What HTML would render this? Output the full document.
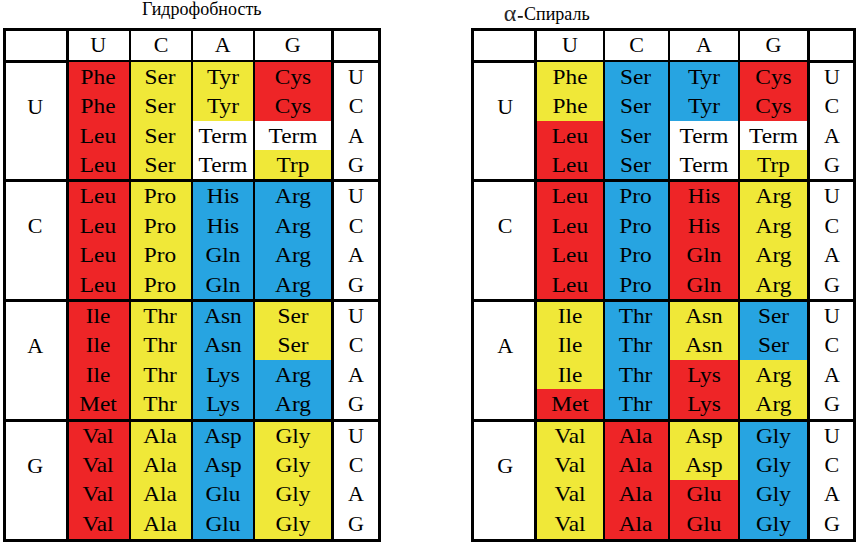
<!DOCTYPE html>
<html><head><meta charset="utf-8"><title>codon tables</title>
<style>
html,body{margin:0;padding:0;background:#fff;}
body{width:858px;height:544px;position:relative;overflow:hidden;font-family:"Liberation Serif",serif;color:#000;}
.r{position:absolute;}
.t{position:absolute;font-size:22px;line-height:29px;height:29px;text-align:center;white-space:nowrap;transform:scaleX(1.06);transform-origin:center;}
.s{transform:none;}
.h{position:absolute;font-size:18px;line-height:20px;white-space:nowrap;}
.al{font-size:21px;}
</style></head><body>
<div class="r" style="left:3px;top:28px;width:378px;height:514px;background:#000"></div>
<div class="r" style="left:6px;top:31px;width:60px;height:29px;background:#ffffff"></div>
<div class="r" style="left:69px;top:31px;width:60px;height:29px;background:#ffffff"></div>
<div class="r" style="left:131px;top:31px;width:60px;height:29px;background:#ffffff"></div>
<div class="r" style="left:193px;top:31px;width:60px;height:29px;background:#ffffff"></div>
<div class="r" style="left:255px;top:31px;width:76px;height:29px;background:#ffffff"></div>
<div class="r" style="left:334px;top:31px;width:44px;height:29px;background:#ffffff"></div>
<div class="r" style="left:6px;top:63px;width:60px;height:116px;background:#ffffff"></div>
<div class="r" style="left:334px;top:63px;width:44px;height:116px;background:#ffffff"></div>
<div class="r" style="left:69px;top:62px;width:60px;height:117px;background:#ee2527"></div>
<div class="r" style="left:131px;top:62px;width:60px;height:117px;background:#f0e838"></div>
<div class="r" style="left:193px;top:62px;width:60px;height:59px;background:#f0e838"></div>
<div class="r" style="left:193px;top:121px;width:60px;height:58px;background:#ffffff"></div>
<div class="r" style="left:255px;top:62px;width:76px;height:59px;background:#ee2527"></div>
<div class="r" style="left:255px;top:121px;width:76px;height:29px;background:#ffffff"></div>
<div class="r" style="left:255px;top:150px;width:76px;height:29px;background:#f0e838"></div>
<div class="r" style="left:6px;top:182px;width:60px;height:117px;background:#ffffff"></div>
<div class="r" style="left:334px;top:182px;width:44px;height:117px;background:#ffffff"></div>
<div class="r" style="left:69px;top:182px;width:60px;height:117px;background:#ee2527"></div>
<div class="r" style="left:131px;top:182px;width:60px;height:117px;background:#f0e838"></div>
<div class="r" style="left:193px;top:182px;width:60px;height:117px;background:#27a4e1"></div>
<div class="r" style="left:255px;top:182px;width:76px;height:117px;background:#27a4e1"></div>
<div class="r" style="left:6px;top:302px;width:60px;height:117px;background:#ffffff"></div>
<div class="r" style="left:334px;top:302px;width:44px;height:117px;background:#ffffff"></div>
<div class="r" style="left:69px;top:302px;width:60px;height:117px;background:#ee2527"></div>
<div class="r" style="left:131px;top:302px;width:60px;height:117px;background:#f0e838"></div>
<div class="r" style="left:193px;top:302px;width:60px;height:117px;background:#27a4e1"></div>
<div class="r" style="left:255px;top:302px;width:76px;height:58px;background:#f0e838"></div>
<div class="r" style="left:255px;top:360px;width:76px;height:59px;background:#27a4e1"></div>
<div class="r" style="left:6px;top:422px;width:60px;height:117px;background:#ffffff"></div>
<div class="r" style="left:334px;top:422px;width:44px;height:117px;background:#ffffff"></div>
<div class="r" style="left:69px;top:422px;width:60px;height:117px;background:#ee2527"></div>
<div class="r" style="left:131px;top:422px;width:60px;height:117px;background:#f0e838"></div>
<div class="r" style="left:193px;top:422px;width:60px;height:117px;background:#27a4e1"></div>
<div class="r" style="left:255px;top:422px;width:76px;height:117px;background:#f0e838"></div>
<div class="t s" style="left:68.2px;top:30.1px;width:60px">U</div>
<div class="t s" style="left:131.2px;top:30.1px;width:60px">C</div>
<div class="t s" style="left:192.7px;top:30.1px;width:60px">A</div>
<div class="t s" style="left:254.8px;top:30.1px;width:76px">G</div>
<div class="t s" style="left:5.2px;top:91.7px;width:60px">U</div>
<div class="t" style="left:68.2px;top:61.7px;width:60px">Phe</div>
<div class="t" style="left:130.2px;top:61.7px;width:60px">Ser</div>
<div class="t" style="left:193px;top:61.7px;width:60px">Tyr</div>
<div class="t" style="left:255px;top:61.7px;width:76px">Cys</div>
<div class="t s" style="left:334px;top:61.7px;width:44px">U</div>
<div class="t" style="left:68.2px;top:91.1px;width:60px">Phe</div>
<div class="t" style="left:130.2px;top:91.1px;width:60px">Ser</div>
<div class="t" style="left:193px;top:91.1px;width:60px">Tyr</div>
<div class="t" style="left:255px;top:91.1px;width:76px">Cys</div>
<div class="t s" style="left:334px;top:91.1px;width:44px">C</div>
<div class="t" style="left:68.2px;top:120.5px;width:60px">Leu</div>
<div class="t" style="left:130.2px;top:120.5px;width:60px">Ser</div>
<div class="t" style="left:193px;top:120.5px;width:60px">Term</div>
<div class="t" style="left:255px;top:120.5px;width:76px">Term</div>
<div class="t s" style="left:334px;top:120.5px;width:44px">A</div>
<div class="t" style="left:68.2px;top:149.9px;width:60px">Leu</div>
<div class="t" style="left:130.2px;top:149.9px;width:60px">Ser</div>
<div class="t" style="left:193px;top:149.9px;width:60px">Term</div>
<div class="t" style="left:255px;top:149.9px;width:76px">Trp</div>
<div class="t s" style="left:334px;top:149.9px;width:44px">G</div>
<div class="t s" style="left:5.2px;top:211.3px;width:60px">C</div>
<div class="t" style="left:68.2px;top:181.3px;width:60px">Leu</div>
<div class="t" style="left:130.2px;top:181.3px;width:60px">Pro</div>
<div class="t" style="left:193px;top:181.3px;width:60px">His</div>
<div class="t" style="left:255px;top:181.3px;width:76px">Arg</div>
<div class="t s" style="left:334px;top:181.3px;width:44px">U</div>
<div class="t" style="left:68.2px;top:210.7px;width:60px">Leu</div>
<div class="t" style="left:130.2px;top:210.7px;width:60px">Pro</div>
<div class="t" style="left:193px;top:210.7px;width:60px">His</div>
<div class="t" style="left:255px;top:210.7px;width:76px">Arg</div>
<div class="t s" style="left:334px;top:210.7px;width:44px">C</div>
<div class="t" style="left:68.2px;top:240.1px;width:60px">Leu</div>
<div class="t" style="left:130.2px;top:240.1px;width:60px">Pro</div>
<div class="t" style="left:193px;top:240.1px;width:60px">Gln</div>
<div class="t" style="left:255px;top:240.1px;width:76px">Arg</div>
<div class="t s" style="left:334px;top:240.1px;width:44px">A</div>
<div class="t" style="left:68.2px;top:269.5px;width:60px">Leu</div>
<div class="t" style="left:130.2px;top:269.5px;width:60px">Pro</div>
<div class="t" style="left:193px;top:269.5px;width:60px">Gln</div>
<div class="t" style="left:255px;top:269.5px;width:76px">Arg</div>
<div class="t s" style="left:334px;top:269.5px;width:44px">G</div>
<div class="t s" style="left:5.2px;top:330.9px;width:60px">A</div>
<div class="t" style="left:68.2px;top:300.9px;width:60px">Ile</div>
<div class="t" style="left:130.2px;top:300.9px;width:60px">Thr</div>
<div class="t" style="left:193px;top:300.9px;width:60px">Asn</div>
<div class="t" style="left:255px;top:300.9px;width:76px">Ser</div>
<div class="t s" style="left:334px;top:300.9px;width:44px">U</div>
<div class="t" style="left:68.2px;top:330.3px;width:60px">Ile</div>
<div class="t" style="left:130.2px;top:330.3px;width:60px">Thr</div>
<div class="t" style="left:193px;top:330.3px;width:60px">Asn</div>
<div class="t" style="left:255px;top:330.3px;width:76px">Ser</div>
<div class="t s" style="left:334px;top:330.3px;width:44px">C</div>
<div class="t" style="left:68.2px;top:359.7px;width:60px">Ile</div>
<div class="t" style="left:130.2px;top:359.7px;width:60px">Thr</div>
<div class="t" style="left:193px;top:359.7px;width:60px">Lys</div>
<div class="t" style="left:255px;top:359.7px;width:76px">Arg</div>
<div class="t s" style="left:334px;top:359.7px;width:44px">A</div>
<div class="t" style="left:68.2px;top:389.1px;width:60px">Met</div>
<div class="t" style="left:130.2px;top:389.1px;width:60px">Thr</div>
<div class="t" style="left:193px;top:389.1px;width:60px">Lys</div>
<div class="t" style="left:255px;top:389.1px;width:76px">Arg</div>
<div class="t s" style="left:334px;top:389.1px;width:44px">G</div>
<div class="t s" style="left:5.2px;top:450.5px;width:60px">G</div>
<div class="t" style="left:68.2px;top:420.5px;width:60px">Val</div>
<div class="t" style="left:130.2px;top:420.5px;width:60px">Ala</div>
<div class="t" style="left:193px;top:420.5px;width:60px">Asp</div>
<div class="t" style="left:255px;top:420.5px;width:76px">Gly</div>
<div class="t s" style="left:334px;top:420.5px;width:44px">U</div>
<div class="t" style="left:68.2px;top:449.9px;width:60px">Val</div>
<div class="t" style="left:130.2px;top:449.9px;width:60px">Ala</div>
<div class="t" style="left:193px;top:449.9px;width:60px">Asp</div>
<div class="t" style="left:255px;top:449.9px;width:76px">Gly</div>
<div class="t s" style="left:334px;top:449.9px;width:44px">C</div>
<div class="t" style="left:68.2px;top:479.3px;width:60px">Val</div>
<div class="t" style="left:130.2px;top:479.3px;width:60px">Ala</div>
<div class="t" style="left:193px;top:479.3px;width:60px">Glu</div>
<div class="t" style="left:255px;top:479.3px;width:76px">Gly</div>
<div class="t s" style="left:334px;top:479.3px;width:44px">A</div>
<div class="t" style="left:68.2px;top:508.7px;width:60px">Val</div>
<div class="t" style="left:130.2px;top:508.7px;width:60px">Ala</div>
<div class="t" style="left:193px;top:508.7px;width:60px">Glu</div>
<div class="t" style="left:255px;top:508.7px;width:76px">Gly</div>
<div class="t s" style="left:334px;top:508.7px;width:44px">G</div>
<div class="r" style="left:471px;top:28px;width:385px;height:514px;background:#000"></div>
<div class="r" style="left:474px;top:31px;width:60px;height:29px;background:#ffffff"></div>
<div class="r" style="left:537px;top:31px;width:66px;height:29px;background:#ffffff"></div>
<div class="r" style="left:605px;top:31px;width:63px;height:29px;background:#ffffff"></div>
<div class="r" style="left:670px;top:31px;width:68px;height:29px;background:#ffffff"></div>
<div class="r" style="left:740px;top:31px;width:67px;height:29px;background:#ffffff"></div>
<div class="r" style="left:810px;top:31px;width:43px;height:29px;background:#ffffff"></div>
<div class="r" style="left:474px;top:63px;width:60px;height:116px;background:#ffffff"></div>
<div class="r" style="left:810px;top:63px;width:43px;height:116px;background:#ffffff"></div>
<div class="r" style="left:537px;top:62px;width:66px;height:59px;background:#f0e838"></div>
<div class="r" style="left:537px;top:121px;width:66px;height:58px;background:#ee2527"></div>
<div class="r" style="left:605px;top:62px;width:63px;height:117px;background:#27a4e1"></div>
<div class="r" style="left:670px;top:62px;width:68px;height:59px;background:#27a4e1"></div>
<div class="r" style="left:670px;top:121px;width:68px;height:58px;background:#ffffff"></div>
<div class="r" style="left:740px;top:62px;width:67px;height:59px;background:#ee2527"></div>
<div class="r" style="left:740px;top:121px;width:67px;height:29px;background:#ffffff"></div>
<div class="r" style="left:740px;top:150px;width:67px;height:29px;background:#f0e838"></div>
<div class="r" style="left:474px;top:182px;width:60px;height:117px;background:#ffffff"></div>
<div class="r" style="left:810px;top:182px;width:43px;height:117px;background:#ffffff"></div>
<div class="r" style="left:537px;top:182px;width:66px;height:117px;background:#ee2527"></div>
<div class="r" style="left:605px;top:182px;width:63px;height:117px;background:#27a4e1"></div>
<div class="r" style="left:670px;top:182px;width:68px;height:117px;background:#ee2527"></div>
<div class="r" style="left:740px;top:182px;width:67px;height:117px;background:#f0e838"></div>
<div class="r" style="left:474px;top:302px;width:60px;height:117px;background:#ffffff"></div>
<div class="r" style="left:810px;top:302px;width:43px;height:117px;background:#ffffff"></div>
<div class="r" style="left:537px;top:302px;width:66px;height:87px;background:#f0e838"></div>
<div class="r" style="left:537px;top:389px;width:66px;height:30px;background:#ee2527"></div>
<div class="r" style="left:605px;top:302px;width:63px;height:117px;background:#27a4e1"></div>
<div class="r" style="left:670px;top:302px;width:68px;height:58px;background:#f0e838"></div>
<div class="r" style="left:670px;top:360px;width:68px;height:59px;background:#ee2527"></div>
<div class="r" style="left:740px;top:302px;width:67px;height:58px;background:#27a4e1"></div>
<div class="r" style="left:740px;top:360px;width:67px;height:59px;background:#f0e838"></div>
<div class="r" style="left:474px;top:422px;width:60px;height:117px;background:#ffffff"></div>
<div class="r" style="left:810px;top:422px;width:43px;height:117px;background:#ffffff"></div>
<div class="r" style="left:537px;top:422px;width:66px;height:117px;background:#f0e838"></div>
<div class="r" style="left:605px;top:422px;width:63px;height:117px;background:#ee2527"></div>
<div class="r" style="left:670px;top:422px;width:68px;height:58px;background:#f0e838"></div>
<div class="r" style="left:670px;top:480px;width:68px;height:59px;background:#ee2527"></div>
<div class="r" style="left:740px;top:422px;width:67px;height:117px;background:#27a4e1"></div>
<div class="t s" style="left:537px;top:30.1px;width:66px">U</div>
<div class="t s" style="left:605px;top:30.1px;width:63px">C</div>
<div class="t s" style="left:670px;top:30.1px;width:68px">A</div>
<div class="t s" style="left:740px;top:30.1px;width:67px">G</div>
<div class="t s" style="left:475.2px;top:91.7px;width:60px">U</div>
<div class="t" style="left:537px;top:61.7px;width:66px">Phe</div>
<div class="t" style="left:604.2px;top:61.7px;width:63px">Ser</div>
<div class="t" style="left:669.6px;top:61.7px;width:68px">Tyr</div>
<div class="t" style="left:739.8px;top:61.7px;width:67px">Cys</div>
<div class="t s" style="left:810.4px;top:61.7px;width:43px">U</div>
<div class="t" style="left:537px;top:91.1px;width:66px">Phe</div>
<div class="t" style="left:604.2px;top:91.1px;width:63px">Ser</div>
<div class="t" style="left:669.6px;top:91.1px;width:68px">Tyr</div>
<div class="t" style="left:739.8px;top:91.1px;width:67px">Cys</div>
<div class="t s" style="left:810.4px;top:91.1px;width:43px">C</div>
<div class="t" style="left:537px;top:120.5px;width:66px">Leu</div>
<div class="t" style="left:604.2px;top:120.5px;width:63px">Ser</div>
<div class="t" style="left:669.6px;top:120.5px;width:68px">Term</div>
<div class="t" style="left:739.8px;top:120.5px;width:67px">Term</div>
<div class="t s" style="left:810.4px;top:120.5px;width:43px">A</div>
<div class="t" style="left:537px;top:149.9px;width:66px">Leu</div>
<div class="t" style="left:604.2px;top:149.9px;width:63px">Ser</div>
<div class="t" style="left:669.6px;top:149.9px;width:68px">Term</div>
<div class="t" style="left:739.8px;top:149.9px;width:67px">Trp</div>
<div class="t s" style="left:810.4px;top:149.9px;width:43px">G</div>
<div class="t s" style="left:475.2px;top:211.3px;width:60px">C</div>
<div class="t" style="left:537px;top:181.3px;width:66px">Leu</div>
<div class="t" style="left:604.2px;top:181.3px;width:63px">Pro</div>
<div class="t" style="left:669.6px;top:181.3px;width:68px">His</div>
<div class="t" style="left:739.8px;top:181.3px;width:67px">Arg</div>
<div class="t s" style="left:810.4px;top:181.3px;width:43px">U</div>
<div class="t" style="left:537px;top:210.7px;width:66px">Leu</div>
<div class="t" style="left:604.2px;top:210.7px;width:63px">Pro</div>
<div class="t" style="left:669.6px;top:210.7px;width:68px">His</div>
<div class="t" style="left:739.8px;top:210.7px;width:67px">Arg</div>
<div class="t s" style="left:810.4px;top:210.7px;width:43px">C</div>
<div class="t" style="left:537px;top:240.1px;width:66px">Leu</div>
<div class="t" style="left:604.2px;top:240.1px;width:63px">Pro</div>
<div class="t" style="left:669.6px;top:240.1px;width:68px">Gln</div>
<div class="t" style="left:739.8px;top:240.1px;width:67px">Arg</div>
<div class="t s" style="left:810.4px;top:240.1px;width:43px">A</div>
<div class="t" style="left:537px;top:269.5px;width:66px">Leu</div>
<div class="t" style="left:604.2px;top:269.5px;width:63px">Pro</div>
<div class="t" style="left:669.6px;top:269.5px;width:68px">Gln</div>
<div class="t" style="left:739.8px;top:269.5px;width:67px">Arg</div>
<div class="t s" style="left:810.4px;top:269.5px;width:43px">G</div>
<div class="t s" style="left:475.2px;top:330.9px;width:60px">A</div>
<div class="t" style="left:537px;top:300.9px;width:66px">Ile</div>
<div class="t" style="left:604.2px;top:300.9px;width:63px">Thr</div>
<div class="t" style="left:669.6px;top:300.9px;width:68px">Asn</div>
<div class="t" style="left:739.8px;top:300.9px;width:67px">Ser</div>
<div class="t s" style="left:810.4px;top:300.9px;width:43px">U</div>
<div class="t" style="left:537px;top:330.3px;width:66px">Ile</div>
<div class="t" style="left:604.2px;top:330.3px;width:63px">Thr</div>
<div class="t" style="left:669.6px;top:330.3px;width:68px">Asn</div>
<div class="t" style="left:739.8px;top:330.3px;width:67px">Ser</div>
<div class="t s" style="left:810.4px;top:330.3px;width:43px">C</div>
<div class="t" style="left:537px;top:359.7px;width:66px">Ile</div>
<div class="t" style="left:604.2px;top:359.7px;width:63px">Thr</div>
<div class="t" style="left:669.6px;top:359.7px;width:68px">Lys</div>
<div class="t" style="left:739.8px;top:359.7px;width:67px">Arg</div>
<div class="t s" style="left:810.4px;top:359.7px;width:43px">A</div>
<div class="t" style="left:537px;top:389.1px;width:66px">Met</div>
<div class="t" style="left:604.2px;top:389.1px;width:63px">Thr</div>
<div class="t" style="left:669.6px;top:389.1px;width:68px">Lys</div>
<div class="t" style="left:739.8px;top:389.1px;width:67px">Arg</div>
<div class="t s" style="left:810.4px;top:389.1px;width:43px">G</div>
<div class="t s" style="left:475.2px;top:450.5px;width:60px">G</div>
<div class="t" style="left:537px;top:420.5px;width:66px">Val</div>
<div class="t" style="left:604.2px;top:420.5px;width:63px">Ala</div>
<div class="t" style="left:669.6px;top:420.5px;width:68px">Asp</div>
<div class="t" style="left:739.8px;top:420.5px;width:67px">Gly</div>
<div class="t s" style="left:810.4px;top:420.5px;width:43px">U</div>
<div class="t" style="left:537px;top:449.9px;width:66px">Val</div>
<div class="t" style="left:604.2px;top:449.9px;width:63px">Ala</div>
<div class="t" style="left:669.6px;top:449.9px;width:68px">Asp</div>
<div class="t" style="left:739.8px;top:449.9px;width:67px">Gly</div>
<div class="t s" style="left:810.4px;top:449.9px;width:43px">C</div>
<div class="t" style="left:537px;top:479.3px;width:66px">Val</div>
<div class="t" style="left:604.2px;top:479.3px;width:63px">Ala</div>
<div class="t" style="left:669.6px;top:479.3px;width:68px">Glu</div>
<div class="t" style="left:739.8px;top:479.3px;width:67px">Gly</div>
<div class="t s" style="left:810.4px;top:479.3px;width:43px">A</div>
<div class="t" style="left:537px;top:508.7px;width:66px">Val</div>
<div class="t" style="left:604.2px;top:508.7px;width:63px">Ala</div>
<div class="t" style="left:669.6px;top:508.7px;width:68px">Glu</div>
<div class="t" style="left:739.8px;top:508.7px;width:67px">Gly</div>
<div class="t s" style="left:810.4px;top:508.7px;width:43px">G</div>
<div class="h" style="left:142px;top:-1.5px">Гидрофобность</div>
<div class="h" style="left:503.7px;top:2.9px;font-size:24px;color:#2b2b2b">α</div>
<svg style="position:absolute;left:515px;top:12px" width="12" height="8" viewBox="0 0 12 8"><rect x="2.8" y="4.1" width="5" height="1.6" fill="#000"/></svg>
<div class="h" style="left:524px;top:4.4px">Спираль</div>
</body></html>
